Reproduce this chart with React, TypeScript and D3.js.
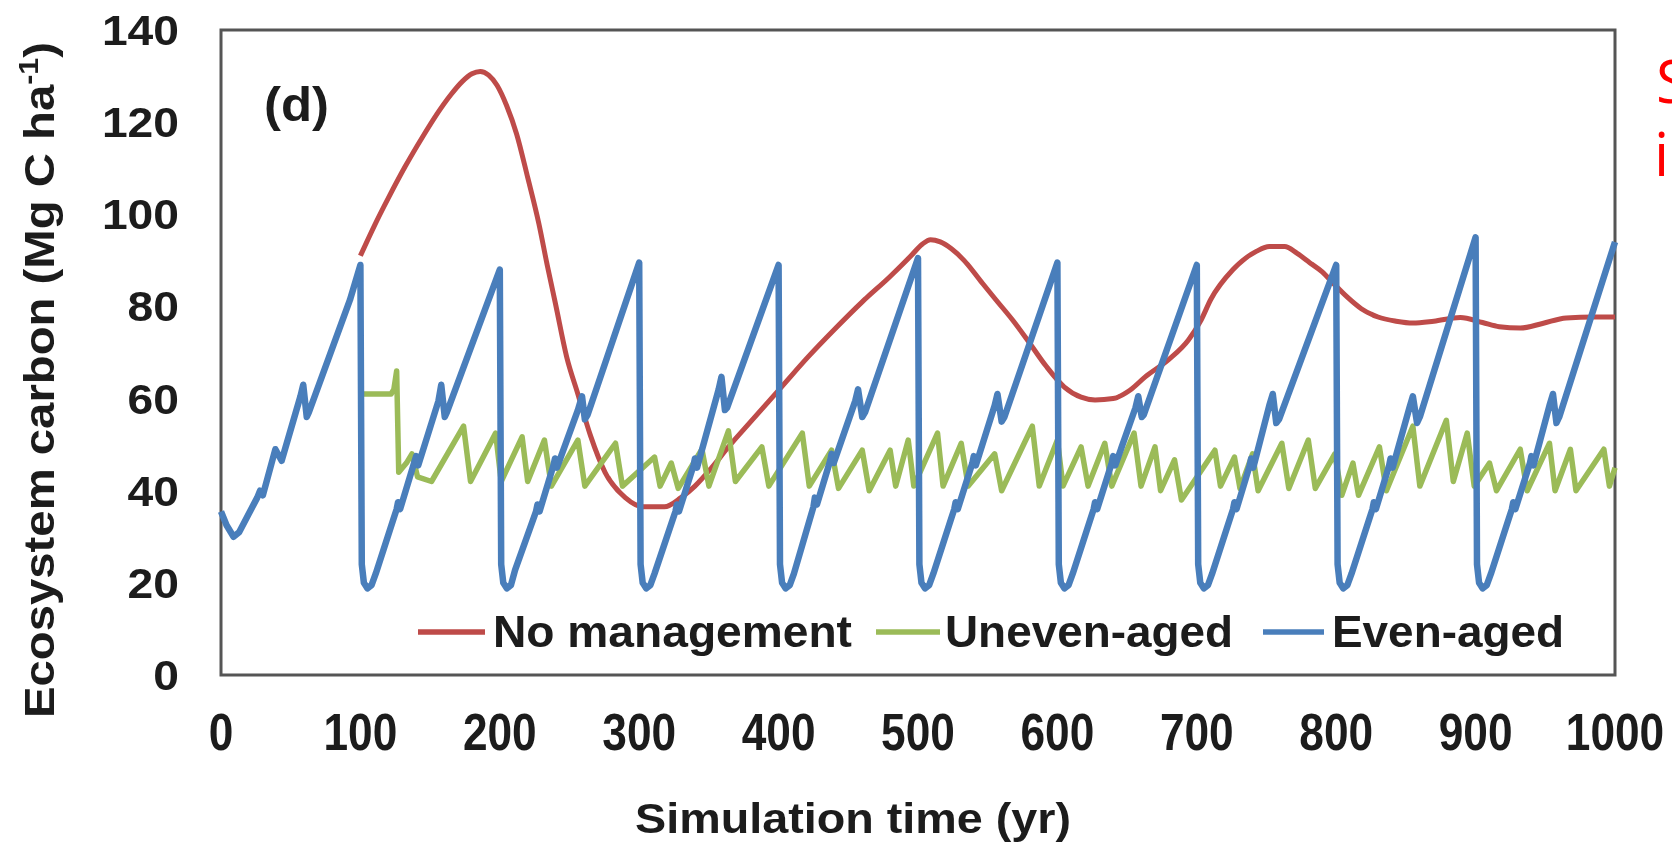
import React from "react";
import * as d3 from "d3";

// ---- data ----
const xTicks = [0, 100, 200, 300, 400, 500, 600, 700, 800, 900, 1000];
const yTicks = [0, 20, 40, 60, 80, 100, 120, 140];
const seriesNames = ["No management", "Uneven-aged", "Even-aged"];

const noManagement: [number, number][] = [
  [100, 91], [110, 97.5], [120, 103.5], [132, 110.3], [145, 117], [155, 121.8], [165, 126], [173, 128.8],
  [180, 130.5], [186, 131], [192, 130.2], [198, 128], [205, 123.5], [212, 117.5], [220, 108], [228, 98],
  [234, 89], [240, 80.5], [248, 69], [256, 61], [265, 52], [275.5, 44], [290, 38.5], [303, 36.5], [318, 36.5],
  [330, 38.5], [340, 41], [352, 45], [364, 49.5], [380, 55], [402, 62.5], [421, 69], [440, 75], [460, 81],
  [480, 86.5], [495, 91], [503, 93.5], [509, 94.5], [516, 94], [524, 92.5], [533, 90], [545, 85.5], [556, 81.4],
  [568, 77], [579, 72.5], [592, 67], [605, 62.5], [617, 60.3], [627, 59.7], [640, 60], [652, 61.8], [663, 64.7],
  [680, 68.5], [694, 72.7], [703, 77], [710, 81.5], [726, 88], [743, 92], [752, 93], [763, 93], [772, 91.5],
  [781, 89.5], [790, 87.5], [798, 85], [808, 82], [818, 79.5], [830, 77.7], [843, 76.8], [855, 76.4],
  [870, 76.8], [889, 77.6], [905, 76.5], [917, 75.6], [932, 75.3], [948, 76.3], [965, 77.5], [985, 77.7],
  [1000, 77.7],
];

const unevenAged: [number, number][] = [
  [100, 61], [122, 61], [124, 62], [126, 66], [127.5, 44], [133, 46], [137, 48], [141, 43], [151, 42], [174, 54],
  [179, 42], [197, 52.5], [201, 42], [216, 51.7], [220, 42], [232, 51], [237, 41], [256, 51], [261, 41],
  [283, 50.3], [288, 41], [311, 47.3], [315, 41], [323, 46], [328, 40.5], [345, 49], [350, 41], [364, 53],
  [369, 42], [388, 49.5], [393, 41], [417, 52.5], [422, 41], [438, 48.8], [443, 40.5], [460, 48.8], [465, 40],
  [480, 48.8], [484, 41], [493, 51], [497, 41], [514, 52.5], [518, 41], [531, 50.3], [536, 41], [555, 48],
  [560, 40], [582, 54], [587, 41], [600, 51], [604, 41], [617, 49.5], [622, 41], [634, 50.3], [639, 41],
  [655, 52.5], [660, 41], [670, 49.5], [674, 40], [684, 46.7], [689, 38], [713, 48.8], [717, 41], [727, 47.3],
  [731, 40.5], [740, 48], [744, 40], [761, 50.3], [766, 40.5], [780, 51], [785, 40.5], [799, 48], [804, 39],
  [812, 46], [816, 39], [831, 49.5], [836, 40], [855, 54], [860, 41], [879, 55.3], [884, 42], [894, 52.5],
  [899, 41], [910, 46], [915, 40], [932, 49], [937, 40], [953, 50.3], [957, 40], [968, 49], [972, 40],
  [992, 49], [996, 41], [1000, 45],
];

const evenAged: [number, number][] = [
  [0, 35.5], [4, 32.5], [9, 30], [13, 31], [26, 38.5], [28, 40], [30, 39], [39, 49], [43.5, 46.5], [57, 60.5],
  [59, 63], [61.5, 56], [63, 57], [92.5, 81.4], [100, 89],
  [101, 24], [102.5, 20], [105, 18.8], [108, 19.5], [111, 22], [126, 36], [127, 37.5], [128.5, 36], [139, 46.5],
  [140, 47.5], [141.5, 45.5], [156, 59.5], [158, 63], [160.5, 56], [162, 57], [200, 88],
  [201, 24], [202.5, 20], [205, 18.8], [208, 19.5], [211, 22.8], [226, 35.5], [227, 37], [228.5, 35.5],
  [238.5, 45.5], [239.6, 47], [241, 45], [256, 57.5], [259, 60.5], [261, 55.5], [263, 56.5], [300, 89.5],
  [301, 24], [302.5, 20], [305, 18.8], [308, 19.5], [311, 22], [326, 35.5], [327, 37], [328.5, 35.5], [339, 45.5],
  [340, 47], [341.5, 45], [357, 62], [359, 64.7], [361.5, 57.5], [363, 58], [400, 89],
  [401, 24], [402.5, 20], [405, 18.8], [408, 19.5], [411, 22], [425, 36.5], [426, 38.5], [427.5, 37], [437, 46.5],
  [438, 48], [439.5, 46], [455, 59.5], [457, 62], [460, 56], [462, 57], [500, 90.5],
  [501, 24], [502.5, 20], [505, 18.8], [508, 19.5], [511, 22], [526, 36], [527, 37.5], [528.5, 36], [539, 46],
  [540, 47.5], [541.5, 45.5], [555, 58.5], [557, 61], [560, 55], [562, 56], [600, 89.5],
  [601, 24], [602.5, 20], [605, 18.8], [608, 19.5], [611, 22], [626, 36], [627, 37.5], [628.5, 36], [639, 46],
  [640, 47.5], [641.5, 45.5], [656, 58], [658, 60.5], [660.5, 56], [662, 56.5], [700, 89],
  [701, 24], [702.5, 20], [705, 18.8], [708, 19.5], [711, 22], [726, 36], [727, 37.5], [728.5, 36], [738, 45.5],
  [739, 47], [740.5, 45], [752, 58.5], [754.5, 61], [757, 54.7], [759, 55.5], [800, 89],
  [801, 24], [802.5, 20], [805, 18.8], [808, 19.5], [811, 22], [826, 36], [827, 37.5], [828.5, 36], [838, 45.5],
  [839, 47], [840.5, 45], [852.5, 58], [855, 60.5], [858, 54.7], [860, 56], [900, 95],
  [901, 24], [902.5, 20], [905, 18.8], [908, 19.5], [911, 22], [926, 36], [927, 37.5], [928.5, 36], [939, 46],
  [940, 47.5], [941.5, 45.5], [953, 58.5], [955.5, 61], [958, 54.7], [960, 56], [1000, 94],
];

const colors = ["#BE4B48", "#9BBB59", "#4A7EBB"];

const W = 1672;
const H = 851;
const FONT = "'Liberation Sans', Arial, Helvetica, sans-serif";

export default function App() {
  const x = d3.scaleLinear().domain([0, 1000]).range([221, 1615]);
  const y = d3.scaleLinear().domain([0, 140]).range([675, 30]);

  const smooth = d3
    .line<[number, number]>()
    .x((d) => x(d[0]))
    .y((d) => y(d[1]))
    .curve(d3.curveMonotoneX);
  const straight = d3
    .line<[number, number]>()
    .x((d) => x(d[0]))
    .y((d) => y(d[1]));

  const legend = [
    { name: seriesNames[0], color: colors[0], x1: 418, x2: 485, tx: 493, tl: 359 },
    { name: seriesNames[1], color: colors[1], x1: 876, x2: 940, tx: 945, tl: 288 },
    { name: seriesNames[2], color: colors[2], x1: 1263, x2: 1324, tx: 1332, tl: 232 },
  ];

  return (
    <svg
      width={W}
      height={H}
      style={{ position: "absolute", left: 0, top: 0, background: "#fff" }}
      fontFamily={FONT}
    >
      <defs>
        <filter id="soft" x="-2%" y="-2%" width="104%" height="104%">
          <feGaussianBlur stdDeviation={0.6} />
        </filter>
      </defs>
      <rect x={0} y={0} width={W} height={H} fill="#fff" />
      <g filter="url(#soft)">
        {/* plot frame */}
        <rect
          x={x(0)}
          y={y(140)}
          width={x(1000) - x(0)}
          height={y(0) - y(140)}
          fill="none"
          stroke="#555"
          strokeWidth={3}
        />

        {/* series */}
        <path d={smooth(noManagement) || ""} fill="none" stroke={colors[0]} strokeWidth={5} strokeLinejoin="round" />
        <path d={straight(unevenAged) || ""} fill="none" stroke={colors[1]} strokeWidth={5.5} strokeLinejoin="round" />
        <path d={straight(evenAged) || ""} fill="none" stroke={colors[2]} strokeWidth={6.5} strokeLinejoin="round" />

        {/* y tick labels */}
        {yTicks.map((t) => (
          <text
            key={"y" + t}
            x={179}
            y={y(t) + 15}
            textAnchor="end"
            fontSize={42}
            fontWeight="bold"
            fill="#1a1a1a"
            textLength={String(t).length * 25.7}
            lengthAdjust="spacingAndGlyphs"
          >
            {t}
          </text>
        ))}

        {/* x tick labels */}
        {xTicks.map((t) => (
          <text
            key={"x" + t}
            x={x(t)}
            y={750}
            textAnchor="middle"
            fontSize={51}
            fontWeight="bold"
            fill="#1a1a1a"
            textLength={String(t).length * 24.6}
            lengthAdjust="spacingAndGlyphs"
          >
            {t}
          </text>
        ))}

        {/* axis titles */}
        <text
          x={853}
          y={833}
          textAnchor="middle"
          fontSize={42}
          fontWeight="bold"
          fill="#1a1a1a"
          textLength={436}
          lengthAdjust="spacingAndGlyphs"
        >
          Simulation time (yr)
        </text>
        <text
          transform="translate(54,380) rotate(-90)"
          textAnchor="middle"
          fontSize={42}
          fontWeight="bold"
          fill="#1a1a1a"
          textLength={676}
          lengthAdjust="spacingAndGlyphs"
        >
          Ecosystem carbon (Mg C ha
          <tspan fontSize={27} dy={-16}>-1</tspan>
          <tspan dy={16}>)</tspan>
        </text>

        {/* panel label */}
        <text x={264} y={121} fontSize={48} fontWeight="bold" fill="#1a1a1a" textLength={65} lengthAdjust="spacingAndGlyphs">
          (d)
        </text>

        {/* legend */}
        {legend.map((l) => (
          <g key={l.name}>
            <line x1={l.x1} x2={l.x2} y1={632} y2={632} stroke={l.color} strokeWidth={5.5} />
            <text
              x={l.tx}
              y={647}
              fontSize={44}
              fontWeight="bold"
              fill="#1a1a1a"
              textLength={l.tl}
              lengthAdjust="spacingAndGlyphs"
            >
              {l.name}
            </text>
          </g>
        ))}
      </g>

      {/* red side text (cut by the picture edge, as in the reference) */}
      <text x={1656} y={103} fontSize={60} fill="#FF0000" fontFamily="'Open Sans', 'Noto Sans', sans-serif">
        S
      </text>
      <text x={1654} y={176} fontSize={60} fill="#FF0000" fontFamily="'Open Sans', 'Noto Sans', sans-serif">
        i
      </text>
    </svg>
  );
}
